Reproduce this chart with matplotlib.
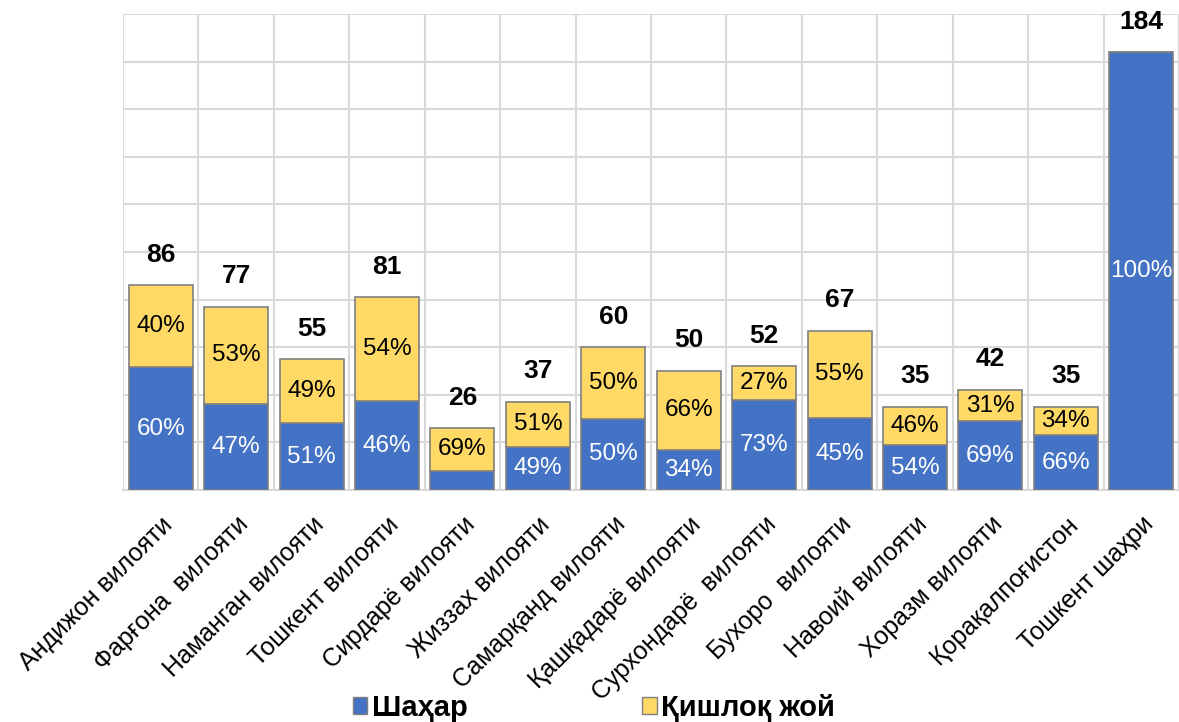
import matplotlib
matplotlib.use("Agg")
import matplotlib.pyplot as plt
from matplotlib.patches import Patch
import numpy as np

plt.rcParams['font.family'] = ['Liberation Sans', 'DejaVu Sans']

categories = ["Андижон вилояти", "Фарғона  вилояти", "Наманган вилояти", "Тошкент вилояти",
              "Сирдарё вилояти", "Жиззах вилояти", "Самарқанд вилояти", "Қашқадарё вилояти",
              "Сурхондарё  вилояти", "Бухоро  вилояти", "Навоий вилояти", "Хоразм вилояти",
              "Қорақалпоғистон", "Тошкент шаҳри"]
totals = [86, 77, 55, 81, 26, 37, 60, 50, 52, 67, 35, 42, 35, 184]
urban_pct = [60, 47, 51, 46, 31, 49, 50, 34, 73, 45, 54, 69, 66, 100]
rural_pct = [40, 53, 49, 54, 69, 51, 50, 66, 27, 55, 46, 31, 34, 0]
show_urban_label = [True, True, True, True, False, True, True, True, True, True, True, True, True, True]
series_names = ["Шаҳар", "Қишлоқ жой"]

blue = "#4472C4"
yellow = "#FFD966"
edge = "#7F7F7F"

fig = plt.figure(figsize=(11.79, 7.22), dpi=100)
ax = fig.add_axes([123/1179, 1 - 490/722, 1 - 123/1179, (490 - 14)/722])

x = np.arange(len(categories))
tot = np.array(totals, dtype=float)
urban = tot * np.array(urban_pct) / 100
rural = tot * np.array(rural_pct) / 100

w = 0.85
ax.bar(x, urban, w, color=blue, edgecolor=edge, linewidth=1.2, zorder=3)
ax.bar(x, rural, w, bottom=urban, color=yellow, edgecolor=edge, linewidth=1.2, zorder=3)

for i in range(len(x)):
    if show_urban_label[i]:
        ax.text(x[i], urban[i] / 2, f"{urban_pct[i]}%", ha='center', va='center',
                color='white', fontsize=17.5, zorder=4)
    if rural_pct[i] > 0:
        ax.text(x[i], urban[i] + rural[i] / 2, f"{rural_pct[i]}%", ha='center', va='center',
                color='black', fontsize=17.5, zorder=4)
    ax.annotate(str(totals[i]), (x[i], tot[i]), xytext=(0, 22), textcoords='offset points',
                ha='center', va='center', fontsize=19, fontweight='bold', zorder=4)

ax.set_xlim(-0.5, len(x) - 0.5)
ax.set_ylim(0, 200)
ax.set_yticks(np.arange(0, 201, 20))
ax.set_yticklabels([])
ax.tick_params(axis='y', length=0)
ax.set_xticks(x)
ax.set_xticklabels(categories, rotation=45, ha='right', rotation_mode='anchor', fontsize=18)
ax.tick_params(axis='x', length=0, pad=16)
ax.set_xticks(np.arange(-0.5, len(x), 1), minor=True)
ax.tick_params(axis='x', which='minor', length=0)
ax.grid(True, axis='y', which='major', color='#D9D9D9', linewidth=1.5, zorder=0)
ax.grid(True, axis='x', which='minor', color='#D9D9D9', linewidth=1.5, zorder=0)
for s in ax.spines.values():
    s.set_visible(False)
ax.spines['bottom'].set_visible(True)
ax.spines['bottom'].set_color('#D9D9D9')
ax.spines['bottom'].set_linewidth(1.5)

handles = [Patch(facecolor=blue, edgecolor=edge), Patch(facecolor=yellow, edgecolor=edge)]
leg = fig.legend(handles, series_names, loc='center', bbox_to_anchor=(594/1179, 1 - 708/722),
                 ncol=2, frameon=False, handlelength=0.5, handleheight=0.5, handletextpad=0.15,
                 columnspacing=6.0, prop={'size': 21, 'weight': 'bold'})

fig.savefig("out.png", dpi=100)
